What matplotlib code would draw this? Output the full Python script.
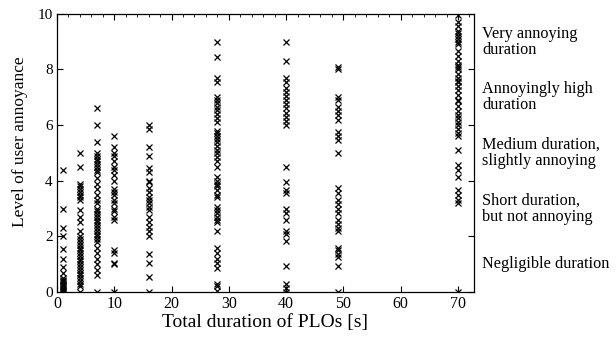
import numpy as np
import matplotlib.pyplot as plt
from matplotlib.ticker import MultipleLocator

# total PLO duration (s) and the annoyance scores read for each duration
durations = [1, 4, 7, 10, 16, 28, 40, 49, 70]

scores = {
    1: [4.4, 3.0, 2.3, 2.0, 1.55, 1.2, 0.9, 0.7, 0.5, 0.45, 0.4, 0.35, 0.3,
        0.25, 0.2, 0.15, 0.1, 0.05, 0.0, 0.0],
    4: [5.0, 4.5, 3.9, 3.8, 3.7, 3.6, 3.5, 3.4, 3.3, 2.95, 2.7, 2.5, 2.2, 2.0,
        1.9, 1.8, 1.7, 1.6, 1.5, 1.4, 1.3, 1.2, 1.1, 1.0, 0.9, 0.8, 0.7, 0.6,
        0.5, 0.4, 0.3, 0.2, 0.0],
    7: [6.6, 6.0, 5.4, 5.0, 4.9, 4.8, 4.7, 4.6, 4.5, 4.4, 4.3, 4.1, 3.9, 3.7,
        3.5, 3.3, 3.2, 3.0, 2.9, 2.8, 2.7, 2.6, 2.5, 2.4, 2.3, 2.2, 2.1, 2.0,
        1.9, 1.8, 1.6, 1.4, 1.2, 1.0, 0.8, 0.6, 0.0],
    10: [5.6, 5.2, 5.0, 4.9, 4.7, 4.5, 4.4, 4.2, 4.0, 3.7, 3.6, 3.5, 3.3,
         3.2, 3.0, 2.9, 2.7, 2.6, 1.5, 1.4, 1.05, 1.0, 0.0],
    16: [6.0, 5.85, 5.2, 4.9, 4.45, 4.3, 4.0, 3.95, 3.75, 3.6, 3.4, 3.3, 3.2,
         3.05, 2.95, 2.7, 2.5, 2.35, 2.2, 2.0, 1.35, 1.05, 0.55, 0.0],
    28: [9.0, 8.45, 7.7, 7.55, 7.0, 6.9, 6.8, 6.65, 6.55, 6.4, 6.25, 6.1, 5.8,
         5.7, 5.6, 5.5, 5.4, 5.25, 5.1, 5.0, 4.85, 4.7, 4.5, 4.15, 4.0, 3.9,
         3.8, 3.65, 3.5, 3.4, 3.05, 2.95, 2.85, 2.7, 2.6, 2.5, 2.2, 1.6, 1.4,
         1.2, 1.05, 0.85, 0.3, 0.2, 0.05],
    40: [9.0, 8.3, 7.7, 7.55, 7.35, 7.2, 7.05, 6.9, 6.75, 6.6, 6.45, 6.3,
         6.15, 6.0, 4.5, 3.95, 3.65, 3.55, 3.0, 2.85, 2.6, 2.2, 2.1, 1.85,
         0.95, 0.3, 0.15, 0.0],
    49: [8.1, 8.0, 7.0, 6.9, 6.65, 6.5, 6.35, 6.2, 5.75, 5.6, 5.45, 5.0, 3.75,
         3.55, 3.3, 3.15, 3.0, 2.85, 2.6, 2.45, 2.3, 2.2, 1.6, 1.5, 1.35,
         1.25, 0.95, 0.0],
    70: [9.95, 9.7, 9.55, 9.4, 9.3, 9.2, 9.1, 9.0, 8.9, 8.65, 8.5, 8.3, 8.15,
         8.1, 8.0, 7.85, 7.7, 7.6, 7.55, 7.4, 7.25, 7.1, 6.9, 6.85, 6.7, 6.5,
         6.35, 6.25, 6.1, 6.0, 5.85, 5.7, 5.6, 5.1, 4.55, 4.4, 4.15, 3.65,
         3.5, 3.3, 3.2, 0.0],
}

category_labels = ["Negligible duration",
                   "Short duration,\nbut not annoying",
                   "Medium duration,\nslightly annoying",
                   "Annoyingly high\nduration",
                   "Very annoying\nduration"]
category_centres = [1, 3, 5, 7, 9]

plt.rcParams['font.family'] = ['Liberation Serif', 'DejaVu Serif']

fig = plt.figure(figsize=(6.16, 3.38), dpi=100)
ax = fig.add_axes([0.0925, 0.136, 0.677, 0.823])

for d in durations:
    ys = scores[d]
    ax.plot([d] * len(ys), ys, 'x', color='black', markersize=4,
            markeredgewidth=0.9)

ax.set_xlim(0, 72.8)
ax.set_ylim(0, 10)
ax.xaxis.set_major_locator(MultipleLocator(10))
ax.yaxis.set_major_locator(MultipleLocator(2))
ax.xaxis.set_minor_locator(MultipleLocator(2))
ax.tick_params(which='major', direction='in', length=4, width=0.8,
               top=True, right=True)
ax.tick_params(axis='x', labelsize=11.5, pad=3)
ax.tick_params(axis='y', labelsize=11, pad=3)
ax.tick_params(which='minor', direction='in', length=2, width=0.6,
               top=True, bottom=False)
for s in ax.spines.values():
    s.set_linewidth(0.9)

ax.set_xlabel('Total duration of PLOs [s]', fontsize=14, labelpad=1)
ax.set_ylabel('Level of user annoyance', fontsize=12.5, labelpad=4)
ax.yaxis.set_label_coords(-0.07, 0.54)

for lab, c in zip(category_labels, category_centres):
    ax.text(1.02, c / 10, lab, transform=ax.transAxes, fontsize=11.7,
            va='center', ha='left', linespacing=1.0)

fig.savefig('out.png', dpi=100)
